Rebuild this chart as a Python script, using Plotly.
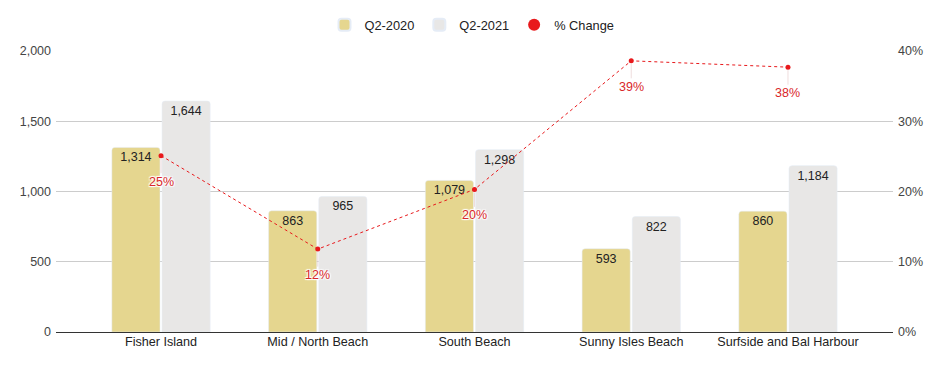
import plotly.graph_objects as go

categories = ["Fisher Island", "Mid / North Beach", "South Beach", "Sunny Isles Beach", "Surfside and Bal Harbour"]
q2_2020 = [1314, 863, 1079, 593, 860]
q2_2021 = [1644, 965, 1298, 822, 1184]
pct_change = [25.1, 11.8, 20.3, 38.6, 37.7]
pct_labels = ["25%", "12%", "20%", "39%", "38%"]
left_ticks = [0, 500, 1000, 1500, 2000]
right_ticks = [0, 10, 20, 30, 40]

FONT = "Arial, Liberation Sans, sans-serif"
BEIGE = "#E5D68F"
GRAY = "#E8E7E6"
RED = "#E8191C"
LABEL_RED = "#D9272A"

W, H = 936, 363  # page has an 8px body margin

fig = go.Figure()
for name, vals, col in [("Q2-2020", q2_2020, BEIGE), ("Q2-2021", q2_2021, GRAY)]:
    fig.add_trace(go.Bar(
        x=categories, y=vals, name=name, marker_color=col,
        text=[f"{v:,}" for v in vals], textposition="inside", insidetextanchor="end",
        insidetextfont=dict(color="#222222", size=12.5, family=FONT), textangle=0,
        hoverinfo="skip", cliponaxis=False,
    ))
fig.add_trace(go.Scatter(
    x=categories, y=pct_change, yaxis="y2", mode="lines", showlegend=False,
    line=dict(color=RED, width=1, dash="dot"), hoverinfo="skip",
))
fig.add_trace(go.Scatter(
    x=categories, y=pct_change, yaxis="y2", mode="markers", name="% Change",
    marker=dict(color=RED, size=5), hoverinfo="skip",
))

for c, v, t in zip(categories, pct_change, pct_labels):
    fig.add_annotation(
        x=c, y=v, yref="y2", text=t, showarrow=True, arrowhead=0, arrowwidth=1,
        arrowcolor="rgba(230,200,200,0.6)", ax=0, ay=26, standoff=3,
        font=dict(color=LABEL_RED, size=12.5, family=FONT,
                  shadow="1px 1px 1px #fff, -1px -1px 1px #fff, 1px -1px 1px #fff, -1px 1px 1px #fff"),
    )

fig.update_layout(
    width=W, height=H,
    margin=dict(l=48, r=51, t=43, b=39, autoexpand=False),
    paper_bgcolor="white", plot_bgcolor="white",
    font=dict(family=FONT, size=12, color="#333333"),
    barmode="group", bargap=0.36, bargroupgap=0.04, barcornerradius=3,
    showlegend=True,
    legend=dict(orientation="h", xref="container", yref="container",
                x=(472 - 8) / W, xanchor="center", y=1 - 17 / H, yanchor="middle",
                font=dict(size=12.8, color="#222222", family=FONT),
                itemsizing="constant", traceorder="normal", itemwidth=30),
    xaxis=dict(range=[-0.67, 4.67], showgrid=False, showline=False, ticks="",
               tickfont=dict(size=12.6, color="#222222")),
    yaxis=dict(range=[0, 2000], tickvals=left_ticks,
               ticktext=[f"{v:,}" for v in left_ticks], gridcolor="#CCCCCC", gridwidth=1,
               zeroline=True, zerolinecolor="#333333", zerolinewidth=1,
               showline=False, ticks="", ticklabelstandoff=4,
               tickfont=dict(size=12.5, color="#444444")),
    yaxis2=dict(range=[0, 40], tickvals=right_ticks,
                ticktext=[f"{v}%" for v in right_ticks],
                overlaying="y", side="right", showgrid=False, zeroline=False,
                showline=False, ticks="", ticklabelstandoff=4,
                tickfont=dict(size=12.5, color="#444444")),
)

fig.write_html("out.html")
